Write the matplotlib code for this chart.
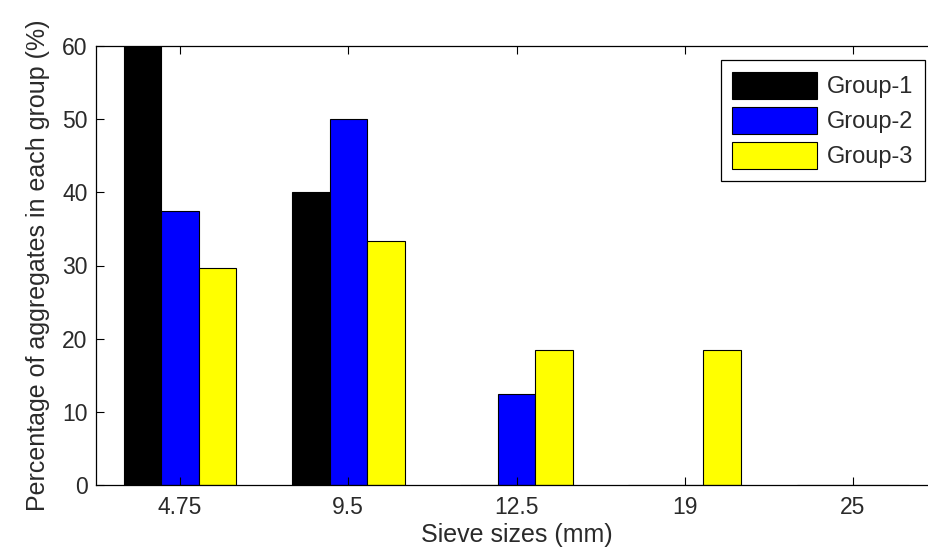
import matplotlib
matplotlib.use("Agg")
import matplotlib.pyplot as plt
import numpy as np

plt.rcParams['font.family'] = ['Liberation Sans', 'DejaVu Sans']

# Data
sieve_sizes = ['4.75', '9.5', '12.5', '19', '25']
group1 = [60.0, 40.0, 0.0, 0.0, 0.0]
group2 = [37.5, 50.0, 12.5, 0.0, 0.0]
group3 = [29.6, 33.3, 18.5, 18.5, 0.0]
labels = ['Group-1', 'Group-2', 'Group-3']
colors = ['#000000', '#0000ff', '#ffff00']

text_col = '#2a2a2a'

fig = plt.figure(figsize=(9.29, 5.57), dpi=100)
# axes box runs slightly past the right edge of the picture, as in the original
ax = fig.add_axes([96 / 929, 72 / 557, 841 / 929, 439 / 557])

x = np.arange(len(sieve_sizes))
w = 0.223
for i, (vals, lab, col) in enumerate(zip([group1, group2, group3], labels, colors)):
    ax.bar(x + (i - 1) * w, vals, width=w, color=col, edgecolor='black',
           linewidth=0.8, label=lab)

ax.set_xlim(-0.5, 4.5)
ax.set_ylim(0, 60)
ax.set_xticks(x)
ax.set_xticklabels(sieve_sizes)
ax.set_yticks(np.arange(0, 61, 10))
ax.tick_params(direction='in', length=6, width=0.8, top=True, right=True,
               labelsize=16.5, labelcolor=text_col)
ax.tick_params(axis='x', pad=8)
ax.tick_params(axis='y', pad=6)
for s in ax.spines.values():
    s.set_linewidth(0.9)
ax.spines['right'].set_visible(False)

ax.set_xlabel('Sieve sizes (mm)', fontsize=18, color=text_col, labelpad=3)
ax.set_ylabel('Percentage of aggregates in each group (%)', fontsize=18,
              color=text_col, labelpad=9)

leg = ax.legend(loc='upper right', bbox_to_anchor=(0.9857, 0.968), borderaxespad=0,
                fontsize=17, fancybox=False, edgecolor='black', framealpha=1,
                handlelength=3.6, handleheight=1.4, labelspacing=0.32,
                handletextpad=0.4, borderpad=0.5)
leg.get_frame().set_linewidth(0.9)
for t in leg.get_texts():
    t.set_color(text_col)

fig.savefig('out.png', dpi=100)
